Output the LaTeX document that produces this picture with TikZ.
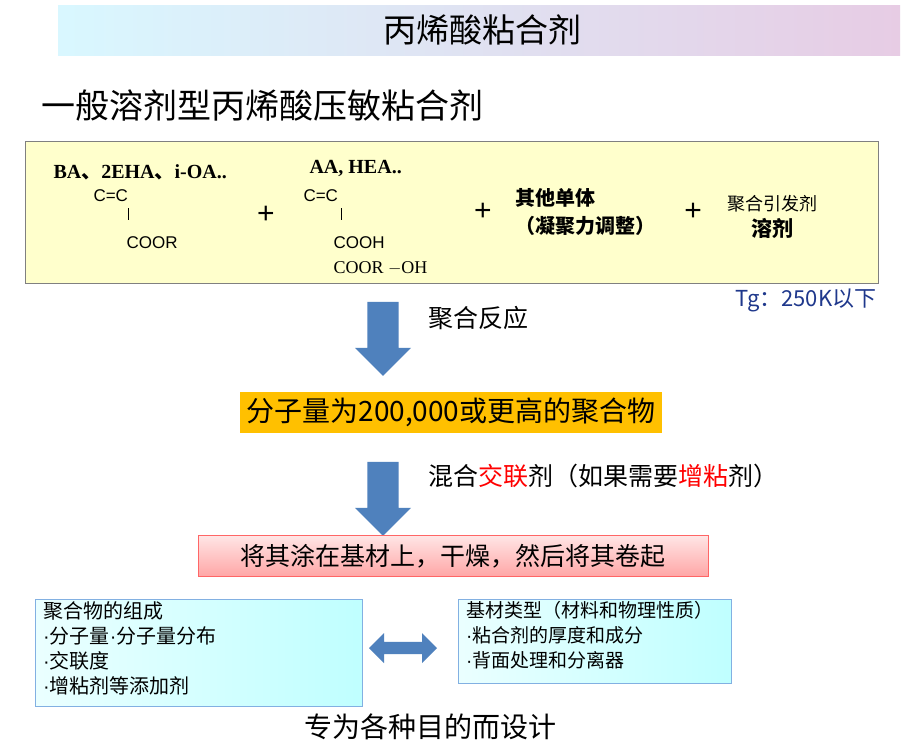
\documentclass[tikz,border=0pt]{standalone}
\usepackage{fontspec}
\setmainfont{Noto Sans CJK SC}
\newfontfamily\cjk{Noto Sans CJK SC}
\newfontfamily\lser{Liberation Serif}
\newfontfamily\lsans{Liberation Sans}
\usetikzlibrary{shapes.arrows}
\definecolor{ablue}{RGB}{79,129,189}
\definecolor{tgblue}{RGB}{31,56,140}
\newcommand{\dt}{{\lsans·}}
\begin{document}
\begin{tikzpicture}[x=1pt,y=-1pt,
  fs/.style={font=\fontsize{#1}{#1}\selectfont},
  darr/.style={single arrow, draw=none, fill=ablue, shape border rotate=270, minimum width=56pt, single arrow head extend=8pt, single arrow tip angle=90, minimum height=74pt, inner sep=10pt},
  bbox/.style={draw=cyan!60!blue!50, left color=cyan!8, right color=cyan!25, line width=1pt}]
\useasboundingbox (0,0) rectangle (923,750);
\fill[white] (0,0) rectangle (923,750);
\shade[left color=blue!20!cyan!15, right color=blue!30!purple!20] (58,5) rectangle (900,55);
\node[fs=33] (title) at (482,30) {丙烯酸粘合剂};
\node[fs=34,anchor=west] (head) at (38,106) {一般溶剂型丙烯酸压敏粘合剂};
\node[draw=gray, line width=1pt, fill={rgb,255:red,255;green,255;blue,204}, minimum width=853pt, minimum height=142pt] (ybox) at (451.5,212) {};
\node[anchor=west,font=\lser\bfseries\fontsize{20}{20}\selectfont] (ba) at (50,172) {BA{\cjk 、}2EHA{\cjk 、}i-OA..};
\node[anchor=west,font=\lsans\fontsize{17}{17}\selectfont] (cc1) at (90,196) {C=C};
\draw (ybox.west) ++(104,-4) -- ++(0,12);
\node[anchor=west,font=\lsans\fontsize{17}{17}\selectfont] (coor) at (123,243) {COOR};
\node[font=\lsans\fontsize{30}{30}\selectfont] (p1) at (266,215) {+};
\node[anchor=west,font=\lser\bfseries\fontsize{20}{20}\selectfont] (aa) at (306,168) {AA, HEA..};
\node[anchor=west,font=\lsans\fontsize{17}{17}\selectfont] (cc2) at (300,196) {C=C};
\draw (ybox.west) ++(317,-4) -- ++(0,12);
\node[anchor=west,font=\lsans\fontsize{17}{17}\selectfont] (cooh) at (330,243) {COOH};
\node[anchor=west,font=\lser\fontsize{18}{18}\selectfont] (cooroh) at (330,268) {COOR $-$OH};
\node[font=\lsans\fontsize{30}{30}\selectfont] (p2) at (483,212) {+};
\node[font=\bfseries\fontsize{20}{20}\selectfont,align=left] (other) at (585,212) {其他单体\\[8pt]（凝聚力调整）};
\node[font=\lsans\fontsize{30}{30}\selectfont] (p3) at (693,212) {+};
\node[fs=18,align=center] (init) at (772,217) {聚合引发剂\\[6pt]{\bfseries\fontsize{21}{21}\selectfont 溶剂}};
\node[fs=22,text=tgblue] (tg) at (806,300) {Tg：250K以下};
\node[darr] (a1) at (383,331) {};
\node[fs=25,anchor=west] (l1) at (425,318) {聚合反应};
\node[fill={rgb,255:red,255;green,192;blue,0}, minimum width=422pt, minimum height=41pt, fs=28] (poly) at (451,412) {分子量为200,000或更高的聚合物};
\node[darr] (a2) at (383,491) {};
\node[fs=25,anchor=west] (l2) at (425,476) {混合\textcolor{red}{交联}剂（如果需要\textcolor{red}{增粘}剂）};
\node[draw=red!60, top color=red!10, bottom color=red!35, minimum width=510pt, minimum height=41pt, fs=25] (coat) at (453,556) {将其涂在基材上，干燥，然后将其卷起};
\node[bbox, minimum width=327pt, minimum height=107pt] (lb) at (198.5,652.5) {};
\node[anchor=north west, font=\fontsize{20}{25}\selectfont, align=left, inner sep=0pt] (lt) at (43,601) {聚合物的组成\\\dt 分子量\dt 分子量分布\\\dt 交联度\\\dt 增粘剂等添加剂};
\node[bbox, minimum width=273pt, minimum height=84pt] (rb) at (594.5,641) {};
\node[anchor=north west, font=\fontsize{19}{25}\selectfont, align=left, inner sep=0pt] (rt) at (466,601) {基材类型（材料和物理性质）\\\dt 粘合剂的厚度和成分\\\dt 背面处理和分离器};
\node[double arrow, fill=ablue, minimum width=30pt, minimum height=68pt, double arrow head extend=6pt, inner sep=4pt] (da) at (403,648) {};
\node[fs=28] (foot) at (430,727) {专为各种目的而设计};
\end{tikzpicture}
\end{document}
